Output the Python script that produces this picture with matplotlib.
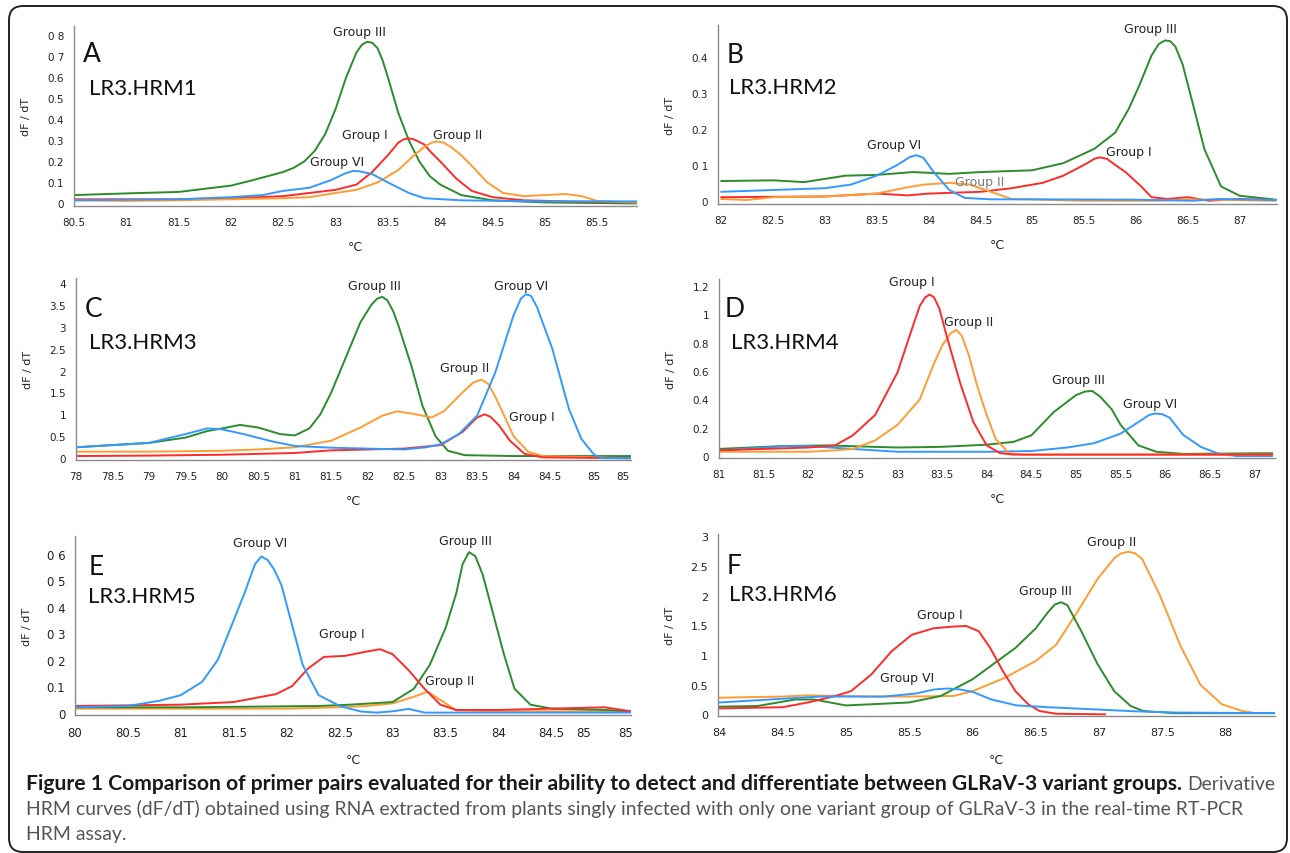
import matplotlib
matplotlib.use("Agg")
import matplotlib.pyplot as plt
from matplotlib import font_manager
from matplotlib.font_manager import FontProperties
from matplotlib.patches import FancyBboxPatch
from matplotlib.transforms import IdentityTransform

plt.rcParams["font.family"] = ["DejaVu Sans"]

W, H = 1290, 854
GREEN, RED, ORANGE, BLUE = "#2b8c2b", "#ff2b2b", "#ff9c33", "#3399ff"

# ---- panel A : LR3.HRM1 ------------------------------------------------------
a_green_x = [80.5, 81.0, 81.5, 82.0, 82.2, 82.5, 82.6, 82.7, 82.8, 82.9, 83.0, 83.1, 83.2, 83.25,
             83.3, 83.35, 83.4, 83.45, 83.5, 83.6, 83.7, 83.8, 83.9, 84.0, 84.2, 84.5, 85.0, 85.88]
a_green_y = [0.04, 0.048, 0.055, 0.085, 0.11, 0.15, 0.17, 0.2, 0.25, 0.33, 0.45, 0.6, 0.72, 0.755,
             0.77, 0.765, 0.74, 0.68, 0.6, 0.43, 0.3, 0.2, 0.13, 0.09, 0.04, 0.015, 0.005, 0.0]
a_red_x = [80.5, 81.0, 81.5, 82.0, 82.5, 82.75, 83.0, 83.2, 83.35, 83.5, 83.6, 83.65, 83.7, 83.75,
           83.85, 83.9, 84.0, 84.15, 84.3, 84.5, 84.8, 85.2, 85.88]
a_red_y = [0.02, 0.02, 0.02, 0.025, 0.035, 0.05, 0.065, 0.09, 0.15, 0.23, 0.29, 0.305, 0.31, 0.305,
           0.28, 0.25, 0.2, 0.12, 0.06, 0.03, 0.015, 0.01, 0.005]
a_orange_x = [80.5, 81.0, 81.5, 82.0, 82.5, 82.75, 83.0, 83.2, 83.4, 83.6, 83.75, 83.85, 83.92,
              83.97, 84.03, 84.1, 84.2, 84.3, 84.45, 84.6, 84.8, 85.0, 85.2, 85.35, 85.5, 85.88]
a_orange_y = [0.015, 0.012, 0.015, 0.02, 0.025, 0.03, 0.05, 0.065, 0.1, 0.16, 0.23, 0.27, 0.29,
              0.295, 0.29, 0.27, 0.23, 0.18, 0.1, 0.05, 0.035, 0.04, 0.045, 0.035, 0.012, 0.005]
a_blue_x = [80.5, 81.0, 81.5, 82.0, 82.3, 82.5, 82.75, 82.95, 83.1, 83.17, 83.23, 83.35, 83.5,
            83.7, 83.85, 84.2, 85.0, 85.88]
a_blue_y = [0.015, 0.018, 0.02, 0.03, 0.04, 0.06, 0.075, 0.11, 0.145, 0.155, 0.153, 0.14, 0.1,
            0.05, 0.025, 0.015, 0.01, 0.01]

# ---- panel B : LR3.HRM2 ------------------------------------------------------
b_green_x = [82.0, 82.5, 82.8, 83.2, 83.5, 83.85, 84.2, 84.5, 85.0, 85.3, 85.45, 85.6, 85.8,
             85.93, 86.03, 86.15, 86.22, 86.28, 86.33, 86.38, 86.45, 86.54, 86.66, 86.82, 87.0,
             87.35]
b_green_y = [0.055, 0.057, 0.052, 0.07, 0.072, 0.08, 0.075, 0.08, 0.085, 0.105, 0.125, 0.145,
             0.19, 0.256, 0.32, 0.405, 0.437, 0.447, 0.445, 0.43, 0.38, 0.28, 0.144, 0.04, 0.014,
             0.003]
b_red_x = [82.0, 83.0, 83.5, 83.8, 84.0, 84.5, 84.8, 85.1, 85.3, 85.5, 85.6, 85.65, 85.72, 85.8,
           85.9, 86.05, 86.15, 86.3, 86.5, 86.7, 87.0, 87.35]
b_red_y = [0.01, 0.012, 0.02, 0.015, 0.02, 0.025, 0.035, 0.05, 0.07, 0.1, 0.117, 0.121, 0.117,
           0.1, 0.08, 0.04, 0.01, 0.005, 0.01, 0.0, 0.005, 0.002]
b_blue_x = [82.0, 82.5, 83.0, 83.25, 83.5, 83.7, 83.82, 83.88, 83.95, 84.05, 84.2, 84.35, 84.6,
            85.0, 86.0, 86.55, 86.8, 87.35]
b_blue_y = [0.025, 0.03, 0.035, 0.045, 0.07, 0.1, 0.122, 0.127, 0.12, 0.08, 0.03, 0.008, 0.004,
            0.004, 0.003, 0.0, 0.005, 0.002]
b_orange_x = [82.0, 82.25, 82.5, 83.0, 83.5, 83.75, 83.95, 84.2, 84.4, 84.6, 84.8, 85.5, 86.2,
              86.5, 87.35]
b_orange_y = [0.005, 0.002, 0.01, 0.012, 0.02, 0.035, 0.045, 0.05, 0.045, 0.025, 0.005, 0.0, 0.0,
              0.004, 0.0]

# ---- panel C : LR3.HRM3 ------------------------------------------------------
c_green_x = [78.0, 78.5, 79.0, 79.5, 79.8, 80.0, 80.25, 80.5, 80.8, 81.0, 81.2, 81.35, 81.5,
             81.75, 81.9, 82.05, 82.13, 82.2, 82.27, 82.35, 82.42, 82.6, 82.75, 82.93, 83.1,
             83.33, 84.0, 85.6]
c_green_y = [0.25, 0.3, 0.35, 0.47, 0.62, 0.68, 0.76, 0.7, 0.55, 0.52, 0.68, 1.0, 1.5, 2.5, 3.1,
             3.5, 3.64, 3.68, 3.6, 3.35, 3.03, 2.1, 1.2, 0.5, 0.17, 0.07, 0.05, 0.05]
c_blue_x = [78.0, 78.5, 79.0, 79.5, 79.8, 80.0, 80.3, 80.7, 81.0, 81.5, 82.0, 82.5, 82.8, 83.0,
            83.25, 83.5, 83.75, 84.0, 84.1, 84.17, 84.24, 84.32, 84.53, 84.76, 84.93, 85.1, 85.2,
            85.6]
c_blue_y = [0.25, 0.3, 0.35, 0.55, 0.68, 0.66, 0.55, 0.38, 0.28, 0.24, 0.22, 0.2, 0.25, 0.32,
            0.55, 0.97, 1.96, 3.26, 3.64, 3.74, 3.7, 3.45, 2.5, 1.12, 0.44, 0.09, 0.0, 0.0]
c_orange_x = [78.0, 79.0, 80.0, 80.5, 81.0, 81.5, 81.9, 82.2, 82.4, 82.6, 82.88, 83.05, 83.3,
              83.45, 83.56, 83.65, 83.75, 83.85, 84.0, 84.2, 84.4, 85.6]
c_orange_y = [0.15, 0.15, 0.17, 0.2, 0.25, 0.4, 0.7, 0.97, 1.07, 1.02, 0.93, 1.08, 1.5, 1.73,
              1.79, 1.7, 1.4, 1.05, 0.5, 0.15, 0.05, 0.0]
c_red_x = [78.0, 79.0, 80.0, 81.0, 81.5, 82.0, 82.5, 83.0, 83.3, 83.5, 83.6, 83.68, 83.8, 83.95,
           84.15, 84.4, 85.6]
c_red_y = [0.05, 0.06, 0.08, 0.12, 0.18, 0.2, 0.22, 0.3, 0.6, 0.93, 1.0, 0.95, 0.75, 0.4, 0.1,
           0.02, 0.0]

# ---- panel D : LR3.HRM4 ------------------------------------------------------
d_red_x = [81.0, 82.0, 82.3, 82.5, 82.75, 83.0, 83.15, 83.25, 83.31, 83.36, 83.41, 83.47, 83.55,
           83.7, 83.85, 84.0, 84.15, 84.3, 87.2]
d_red_y = [0.04, 0.06, 0.075, 0.146, 0.29, 0.59, 0.875, 1.06, 1.12, 1.14, 1.12, 1.04, 0.85, 0.52,
           0.24, 0.075, 0.02, 0.01, 0.01]
d_orange_x = [81.0, 82.0, 82.3, 82.5, 82.75, 83.0, 83.25, 83.4, 83.5, 83.6, 83.66, 83.72, 83.8,
              83.9, 84.0, 84.1, 84.25, 84.4, 87.2]
d_orange_y = [0.03, 0.03, 0.04, 0.05, 0.11, 0.22, 0.4, 0.64, 0.78, 0.87, 0.89, 0.85, 0.71, 0.48,
              0.29, 0.12, 0.02, 0.01, 0.01]
d_green_x = [81.0, 81.7, 82.2, 83.0, 83.5, 84.0, 84.3, 84.5, 84.75, 85.0, 85.1, 85.18, 85.27,
             85.4, 85.5, 85.7, 85.9, 86.2, 87.2]
d_green_y = [0.05, 0.07, 0.075, 0.06, 0.065, 0.08, 0.1, 0.146, 0.31, 0.43, 0.455, 0.46, 0.42,
             0.33, 0.22, 0.075, 0.03, 0.015, 0.02]
d_blue_x = [81.0, 81.75, 82.0, 82.5, 83.0, 84.0, 84.5, 84.9, 85.2, 85.5, 85.7, 85.82, 85.89,
            85.97, 86.05, 86.2, 86.4, 86.6, 86.8, 87.2]
d_blue_y = [0.04, 0.07, 0.07, 0.05, 0.03, 0.03, 0.035, 0.06, 0.09, 0.158, 0.24, 0.29, 0.3, 0.295,
            0.27, 0.15, 0.064, 0.016, 0.0, 0.0]

# ---- panel E : LR3.HRM5 ------------------------------------------------------
e_blue_x = [80.0, 80.5, 80.8, 81.0, 81.2, 81.35, 81.45, 81.6, 81.7, 81.76, 81.82, 81.88, 81.95,
            82.05, 82.15, 82.3, 82.5, 82.7, 82.85, 83.0, 83.15, 83.3, 85.25]
e_blue_y = [0.02, 0.025, 0.045, 0.066, 0.116, 0.2, 0.3, 0.45, 0.56, 0.589, 0.575, 0.54, 0.48,
            0.33, 0.18, 0.066, 0.025, 0.004, 0.0, 0.005, 0.014, 0.0, 0.0]
e_red_x = [80.0, 81.0, 81.5, 81.9, 82.05, 82.2, 82.35, 82.55, 82.75, 82.88, 83.0, 83.15, 83.3,
           83.45, 83.6, 84.0, 84.5, 85.0, 85.25]
e_red_y = [0.025, 0.03, 0.04, 0.07, 0.1, 0.166, 0.21, 0.214, 0.23, 0.239, 0.22, 0.16, 0.09, 0.03,
           0.01, 0.01, 0.015, 0.02, 0.005]
e_green_x = [80.0, 81.0, 82.3, 82.6, 83.0, 83.2, 83.35, 83.5, 83.6, 83.66, 83.72, 83.78, 83.85,
             83.95, 84.05, 84.15, 84.3, 84.5, 85.0, 85.25]
e_green_y = [0.02, 0.02, 0.025, 0.03, 0.04, 0.09, 0.18, 0.32, 0.45, 0.56, 0.605, 0.59, 0.52, 0.37,
             0.22, 0.09, 0.03, 0.015, 0.01, 0.005]
e_orange_x = [80.0, 81.0, 82.0, 82.5, 82.75, 83.0, 83.2, 83.33, 83.48, 83.6, 84.0, 85.25]
e_orange_y = [0.015, 0.015, 0.015, 0.02, 0.025, 0.035, 0.06, 0.079, 0.04, 0.008, 0.005, 0.005]

# ---- panel F : LR3.HRM6 ------------------------------------------------------
f_orange_x = [84.0, 84.5, 84.7, 85.2, 85.5, 85.85, 86.0, 86.25, 86.5, 86.66, 86.83, 86.99, 87.12,
              87.17, 87.23, 87.28, 87.34, 87.48, 87.64, 87.8, 87.97, 88.13, 88.21]
f_orange_y = [0.28, 0.3, 0.32, 0.3, 0.3, 0.31, 0.39, 0.61, 0.9, 1.17, 1.73, 2.29, 2.63, 2.71,
              2.74, 2.72, 2.62, 2.01, 1.17, 0.5, 0.17, 0.056, 0.03]
f_green_x = [84.0, 84.3, 84.6, 84.75, 84.95, 85.0, 85.5, 85.75, 86.0, 86.34, 86.5, 86.6, 86.65,
             86.7, 86.75, 86.86, 86.99, 87.12, 87.25, 87.35, 87.6, 88.4]
f_green_y = [0.13, 0.14, 0.25, 0.25, 0.17, 0.15, 0.2, 0.31, 0.59, 1.12, 1.45, 1.73, 1.85, 1.89,
             1.84, 1.4, 0.84, 0.39, 0.14, 0.056, 0.02, 0.02]
f_red_x = [84.0, 84.5, 84.7, 84.9, 85.04, 85.2, 85.36, 85.52, 85.69, 85.85, 85.95, 86.05, 86.14,
           86.24, 86.34, 86.44, 86.53, 86.66, 87.05]
f_red_y = [0.1, 0.12, 0.2, 0.3, 0.39, 0.67, 1.06, 1.34, 1.45, 1.48, 1.49, 1.4, 1.12, 0.73, 0.39,
           0.17, 0.056, 0.01, 0.0]
f_blue_x = [84.0, 84.4, 84.8, 85.3, 85.55, 85.7, 85.8, 85.9, 86.0, 86.15, 86.35, 86.6, 87.0, 87.3,
            87.6, 88.4]
f_blue_y = [0.2, 0.25, 0.3, 0.3, 0.35, 0.42, 0.435, 0.42, 0.38, 0.25, 0.15, 0.12, 0.08, 0.05,
            0.03, 0.02]

# tick labels as printed on the figure
a_yticks = [0, 0.1, 0.2, 0.3, 0.4, 0.5, 0.6, 0.7, 0.8]
a_ylabels = ["0", "0.1", "0.2", "0.3", "0.4", "0.5", "0.6", "0 7", "0 8"]
b_yticks = [0, 0.1, 0.2, 0.3, 0.4]
b_ylabels = ["0", "0 1", "0.2", "0.3", "0.4"]
c_yticks = [0, 0.5, 1, 1.5, 2, 2.5, 3, 3.5, 4]
c_ylabels = ["0", "0.5", "1", "1.5", "2", "2.5", "3", "3.5", "4"]
d_yticks = [0, 0.2, 0.4, 0.6, 0.8, 1.0, 1.2]
d_ylabels = ["0", "0.2", "0.4", "0.6", "0.8", "1", "1.2"]
e_yticks = [0, 0.1, 0.2, 0.3, 0.4, 0.5, 0.6]
e_ylabels = ["0", "0.1", "0 2", "0 3", "0 4", "0 5", "0 6"]
f_yticks = [0, 0.5, 1, 1.5, 2, 2.5, 3]
f_ylabels = ["0", "0.5", "1", "1.5", "2", "2.5", "3"]

a_xticks = [80.5, 81, 81.5, 82, 82.5, 83, 83.5, 84, 84.5, 85, 85.5]
b_xticks = [82, 82.5, 83, 83.5, 84, 84.5, 85, 85.5, 86, 86.5, 87]
c_xticks = [78, 78.5, 79, 79.5, 80, 80.5, 81, 81.5, 82, 82.5, 83, 83.5, 84, 84.5, 85.1, 85.5]
c_xlabels = ["78", "78.5", "79", "79.5", "80", "80.5", "81", "81.5", "82", "82.5", "83", "83.5",
             "84", "84.5", "85", "85"]
d_xticks = [81, 81.5, 82, 82.5, 83, 83.5, 84, 84.5, 85, 85.5, 86, 86.5, 87]
e_xticks = [80, 80.5, 81, 81.5, 82, 82.5, 83, 83.5, 84, 84.5, 84.8, 85.2]
e_xlabels = ["80", "80.5", "81", "81.5", "82", "82.5", "83", "83.5", "84", "84.5", "85", "85"]
f_xticks = [84, 84.5, 85, 85.5, 86, 86.5, 87, 87.5, 88]

# group annotations (label, x, y)
a_notes = [("Group III", 83.23, 0.82), ("Group I", 83.28, 0.33), ("Group II", 84.17, 0.33),
           ("Group VI", 83.01, 0.20)]
b_notes = [("Group III", 86.14, 0.48), ("Group I", 85.93, 0.136), ("Group VI", 83.67, 0.156),
           ("Group II", 84.49, 0.053)]
c_notes = [("Group III", 82.09, 3.93), ("Group VI", 84.1, 3.93), ("Group II", 83.33, 2.06),
           ("Group I", 84.25, 0.96)]
d_notes = [("Group I", 83.16, 1.23), ("Group II", 83.80, 0.95), ("Group III", 85.03, 0.54),
           ("Group VI", 85.83, 0.37)]
e_notes = [("Group VI", 81.75, 0.64), ("Group III", 83.69, 0.65), ("Group I", 82.52, 0.30),
           ("Group II", 83.54, 0.12)]
f_notes = [("Group II", 87.10, 2.91), ("Group III", 86.58, 2.08), ("Group I", 85.74, 1.69),
           ("Group VI", 85.48, 0.62)]


def pick_font(names):
    for n in names:
        try:
            font_manager.findfont(FontProperties(family=n), fallback_to_default=False)
            return n
        except ValueError:
            continue
    return "DejaVu Sans"


LABEL_FONT = pick_font(["Lato", "Open Sans", "DejaVu Sans"])
CAP_FONT = pick_font(["Lato", "Liberation Sans"])

fig = plt.figure(figsize=(W / 100, H / 100), dpi=100)
fig.patch.set_facecolor("white")

# rounded frame round the whole figure
frame = FancyBboxPatch((9, 1), 1278, 846, boxstyle="round,pad=0,rounding_size=14",
                       transform=IdentityTransform(), fill=False, ec="#222222", lw=1.4)
fig.add_artist(frame)


def panel(px, curves, notes, xlim, ylim, xticks, xlabels, yticks, ylabels, letter, name,
          letter_pos, name_pos, grey_note=None, tick_fs=7.5, xlab_off=34):
    l, r, t, b = px
    ax = fig.add_axes([l / W, 1 - b / H, (r - l) / W, (b - t) / H])
    for x, y, c in curves:
        ax.plot(x, y, color=c, lw=1.4, solid_joinstyle="round", solid_capstyle="round")
    ax.set_xlim(*xlim)
    ax.set_ylim(*ylim)
    ax.set_xticks(xticks)
    ax.set_xticklabels(xlabels if xlabels else [f"{v:g}" for v in xticks], family="DejaVu Sans")
    ax.set_yticks(yticks)
    ax.set_yticklabels(ylabels, family="DejaVu Sans")
    ax.tick_params(length=0, labelsize=tick_fs, colors="#222222")
    ax.tick_params(axis="x", pad=8)
    ax.tick_params(axis="y", pad=7)
    for s in ("top", "right"):
        ax.spines[s].set_visible(False)
    for s in ("left", "bottom"):
        ax.spines[s].set_color("#8a8a8a")
        ax.spines[s].set_linewidth(1.0)
    ax.set_ylabel("dF / dT", fontsize=8, color="#222222", family="DejaVu Sans")
    ax.yaxis.set_label_coords(-43 / (r - l), 0.5)
    ax.set_xlabel("°C", fontsize=9, color="#222222", family="DejaVu Sans")
    ax.xaxis.set_label_coords(0.5, -xlab_off / (b - t))
    for txt, x, y in notes:
        col = "#7a7a7a" if txt == grey_note else "#222222"
        ax.text(x, y, txt, fontsize=9, ha="center", va="center", color=col, family="DejaVu Sans")
    ax.text(*letter_pos, letter, transform=ax.transAxes, fontsize=19, family=LABEL_FONT,
            ha="left", va="top", color="#111111")
    ax.text(*name_pos, name, transform=ax.transAxes, fontsize=16, family=LABEL_FONT,
            ha="left", va="top", color="#111111")
    return ax


panel((74, 637, 27, 207),
      [(a_green_x, a_green_y, GREEN), (a_red_x, a_red_y, RED), (a_orange_x, a_orange_y, ORANGE),
       (a_blue_x, a_blue_y, BLUE)],
      a_notes, (80.5, 85.88), (-0.012, 0.845), a_xticks, None, a_yticks, a_ylabels,
      "A", "LR3.HRM1", (0.016, 0.915), (0.027, 0.71))
panel((718, 1277, 26, 205),
      [(b_green_x, b_green_y, GREEN), (b_red_x, b_red_y, RED), (b_orange_x, b_orange_y, ORANGE),
       (b_blue_x, b_blue_y, BLUE)],
      b_notes, (81.97, 87.36), (-0.009, 0.49), b_xticks, None, b_yticks, b_ylabels,
      "B", "LR3.HRM2", (0.016, 0.905), (0.02, 0.71), grey_note="Group II")
panel((76, 631, 279, 461),
      [(c_green_x, c_green_y, GREEN), (c_orange_x, c_orange_y, ORANGE), (c_red_x, c_red_y, RED),
       (c_blue_x, c_blue_y, BLUE)],
      c_notes, (78.0, 85.61), (-0.04, 4.11), c_xticks, c_xlabels, c_yticks, c_ylabels,
      "C", "LR3.HRM3", (0.016, 0.9), (0.023, 0.705))
panel((719, 1275, 280, 459),
      [(d_green_x, d_green_y, GREEN), (d_blue_x, d_blue_y, BLUE), (d_orange_x, d_orange_y, ORANGE),
       (d_red_x, d_red_y, RED)],
      d_notes, (81.0, 87.23), (-0.014, 1.25), d_xticks, None, d_yticks, d_ylabels,
      "D", "LR3.HRM4", (0.011, 0.905), (0.022, 0.705))
panel((75, 631, 537, 716),
      [(e_orange_x, e_orange_y, ORANGE), (e_green_x, e_green_y, GREEN), (e_red_x, e_red_y, RED),
       (e_blue_x, e_blue_y, BLUE)],
      e_notes, (80.0, 85.25), (-0.009, 0.666), e_xticks, e_xlabels, e_yticks, e_ylabels,
      "E", "LR3.HRM5", (0.024, 0.9), (0.024, 0.72), tick_fs=8.5, xlab_off=38)
panel((718, 1275, 535, 717),
      [(f_orange_x, f_orange_y, ORANGE), (f_green_x, f_green_y, GREEN), (f_red_x, f_red_y, RED),
       (f_blue_x, f_blue_y, BLUE)],
      f_notes, (83.99, 88.39), (-0.028, 3.04), f_xticks, None, f_yticks, f_ylabels,
      "F", "LR3.HRM6", (0.016, 0.895), (0.02, 0.725), tick_fs=8, xlab_off=37)

# ---- caption -----------------------------------------------------------------
bold_part = ("Figure 1 Comparison of primer pairs evaluated for their ability to detect and "
             "differentiate between GLRaV-3 variant groups.")
line2 = ("HRM curves (dF/dT) obtained using RNA extracted from plants singly infected with only "
         "one variant group of GLRaV-3 in the real-time RT-PCR")
line3 = "HRM assay."
CAP_GREY = "#555555"

fig.canvas.draw()
rend = fig.canvas.get_renderer()
x0 = 26 / W
t1 = fig.text(x0, 1 - 790 / H, bold_part, fontsize=12, fontweight="bold", family=CAP_FONT,
              color="#1a1a1a", va="baseline")
w1 = t1.get_window_extent(rend).width
t1.set_fontsize(12 * 1150 / w1)
t2 = fig.text(x0, 1 - 815 / H, line2, fontsize=12, family=CAP_FONT, color=CAP_GREY,
              va="baseline")
w2 = t2.get_window_extent(rend).width
reg = 12 * 1216 / w2
t2.set_fontsize(reg)
fig.text(x0, 1 - 840 / H, line3, fontsize=reg, family=CAP_FONT, color=CAP_GREY, va="baseline")
end1 = t1.get_window_extent(rend).x1
fig.text((end1 + 5) / W, 1 - 790 / H, "Derivative", fontsize=reg, family=CAP_FONT,
         color=CAP_GREY, va="baseline")

fig.savefig("out.png", dpi=100)
